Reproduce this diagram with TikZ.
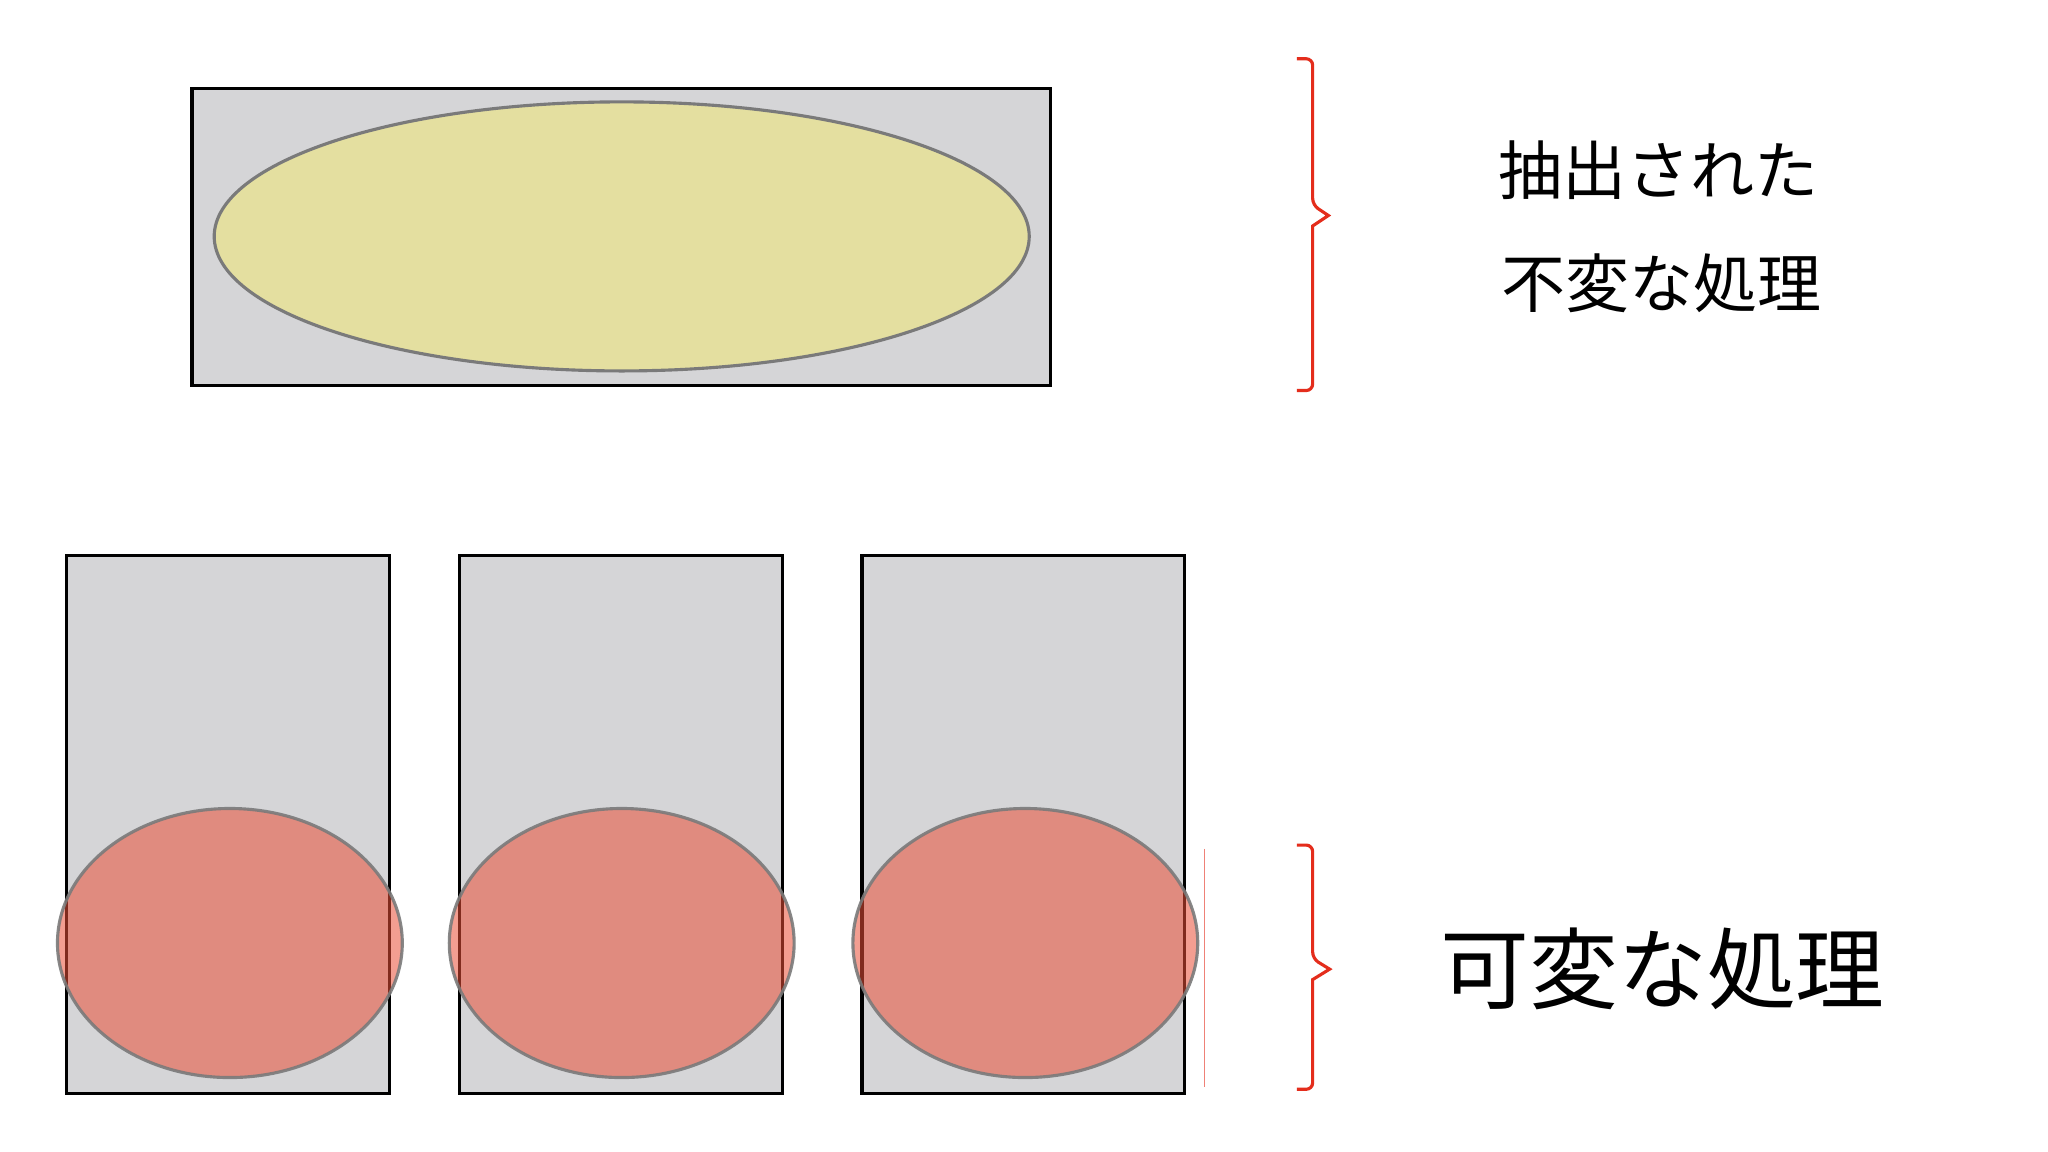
\documentclass[tikz,border=0pt]{standalone}
\usepackage{fontspec}
\newfontfamily\jp{Noto Sans CJK JP}
\usetikzlibrary{shapes.geometric}
\definecolor{boxgray}{RGB}{213,213,215}
\definecolor{ellyellow}{RGB}{228,223,160}
\definecolor{ellred}{RGB}{234,80,55}
\definecolor{bracered}{RGB}{228,45,28}
\tikzset{
  box/.style={draw=black, line width=1.2pt, fill=boxgray, inner sep=0pt},
  topbox/.style={box, minimum width=328.5pt, minimum height=113.5pt},
  colbox/.style={box, minimum width=123.5pt, minimum height=206pt},
  yell/.style={ellipse, draw=black!52, line width=1.2pt, fill=ellyellow, inner sep=0pt, minimum width=312pt, minimum height=103pt},
  rell/.style={ellipse, draw=black!52, line width=1.2pt, fill=ellred, fill opacity=0.55, draw opacity=0.9, inner sep=0pt, minimum width=132pt, minimum height=103pt},
  brace/.style={draw=bracered, line width=1.2pt},
  lbl/.style={font=\jp, text=black, inner sep=0pt}
}
\begin{document}
\begin{tikzpicture}[x=0.5pt, y=-0.5pt]
\useasboundingbox[fill=white] (0,0) rectangle (1568,882);
% top group
\node[topbox] (tb) at (475.5,181.5) {};
\node[yell] (te) at (476,181) {};
% bottom columns
\node[colbox] (c1) at (174.5,631) {};
\node[colbox] (c2) at (475.5,631) {};
\node[colbox] (c3) at (783.5,631) {};
\node[rell] (e1) at (176,722) {};
\node[rell] (e2) at (476,722) {};
\node[rell] (e3) at (785,722) {};
% faint red line
\coordinate (ra) at (922,650);
\coordinate (rb) at (922,832);
\draw[draw=bracered!60, line width=0.35pt] (ra) -- (rb);
% top brace
\coordinate (b1a) at (993,45);
\coordinate (b1b) at (1005,45);
\coordinate (b1c) at (1005,157);
\coordinate (b1t) at (1017,165);
\coordinate (b1d) at (1005,173);
\coordinate (b1e) at (1005,299);
\coordinate (b1f) at (993,299);
\draw[brace] (b1a) [rounded corners=2.5pt] -- (b1b) -- (b1c) [sharp corners] -- (b1t) -- (b1d) [rounded corners=2.5pt] -- (b1e) -- (b1f);
% bottom brace
\coordinate (b2a) at (993,647);
\coordinate (b2b) at (1005,647);
\coordinate (b2c) at (1005,734);
\coordinate (b2t) at (1018,742);
\coordinate (b2d) at (1005,750);
\coordinate (b2e) at (1005,834);
\coordinate (b2f) at (993,834);
\draw[brace] (b2a) [rounded corners=2.5pt] -- (b2b) -- (b2c) [sharp corners] -- (b2t) -- (b2d) [rounded corners=2.5pt] -- (b2e) -- (b2f);
% labels
\node[lbl, font=\jp\fontsize{24.5pt}{30pt}\selectfont] (t1) at (1270,130) {抽出された};
\node[lbl, font=\jp\fontsize{24.5pt}{30pt}\selectfont] (t2) at (1272,217) {不変な処理};
\node[lbl, font=\jp\fontsize{34pt}{40pt}\selectfont] (t3) at (1273,742) {可変な処理};
\end{tikzpicture}
\end{document}
